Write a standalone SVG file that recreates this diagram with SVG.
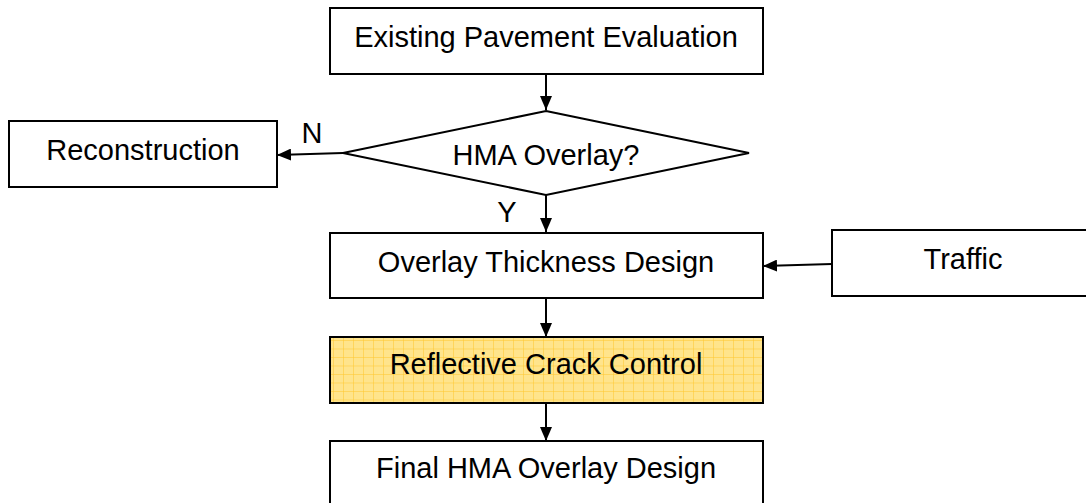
<svg xmlns="http://www.w3.org/2000/svg" width="1086" height="503" viewBox="0 0 1086 503">
<style>
.box{fill:#fff;stroke:#000;stroke-width:2}
.t{font-family:"Liberation Sans",Arial,sans-serif;font-size:29px;fill:#000;text-anchor:middle}
.c{stroke:#000;stroke-width:2;fill:none}
</style>
<defs>
<marker id="ah" viewBox="0 0 14 12" refX="14" refY="6" markerWidth="14" markerHeight="12" markerUnits="userSpaceOnUse" orient="auto">
<path d="M0,0 L14,6 L0,12 Z" fill="#000"/>
</marker>
<pattern id="grid" x="333" y="340" width="10" height="8.5" patternUnits="userSpaceOnUse">
<rect width="10" height="8.5" fill="#FFE48C"/>
<path d="M0,0 H10 M0,0 V8.5" stroke="#FFC72C" stroke-width="1"/>
</pattern>
</defs>
<g id="connectors">
<line class="c" x1="546" y1="74" x2="546" y2="110" marker-end="url(#ah)"/>
<line class="c" x1="343" y1="153" x2="277" y2="155" marker-end="url(#ah)"/>
<line class="c" x1="546" y1="195" x2="546" y2="232" marker-end="url(#ah)"/>
<line class="c" x1="832" y1="264" x2="763" y2="266" marker-end="url(#ah)"/>
<line class="c" x1="546" y1="298" x2="546" y2="337" marker-end="url(#ah)"/>
<line class="c" x1="546" y1="403" x2="546" y2="441" marker-end="url(#ah)"/>
<text class="t" x="312" y="143">N</text>
<text class="t" x="507" y="222">Y</text>
</g>
<g id="n1"><rect class="box" x="330" y="8" width="433" height="66"/><text class="t" x="546" y="47">Existing Pavement Evaluation</text></g>
<g id="n2"><polygon class="box" points="546,111 749,153 546,195 343,153"/><text class="t" x="546" y="165">HMA Overlay?</text></g>
<g id="n3"><rect class="box" x="9" y="121" width="268" height="66"/><text class="t" x="143" y="160">Reconstruction</text></g>
<g id="n4"><rect class="box" x="330" y="233" width="433" height="65"/><text class="t" x="546" y="272">Overlay Thickness Design</text></g>
<g id="n5"><rect class="box" x="832" y="230" width="256" height="66"/><text class="t" x="963" y="269">Traffic</text></g>
<g id="n6"><rect x="330" y="337" width="433" height="66" fill="url(#grid)" stroke="#000" stroke-width="2"/><text class="t" x="546" y="374">Reflective Crack Control</text></g>
<g id="n7"><rect class="box" x="330" y="441" width="433" height="70"/><text class="t" x="546" y="478">Final HMA Overlay Design</text></g>
</svg>
